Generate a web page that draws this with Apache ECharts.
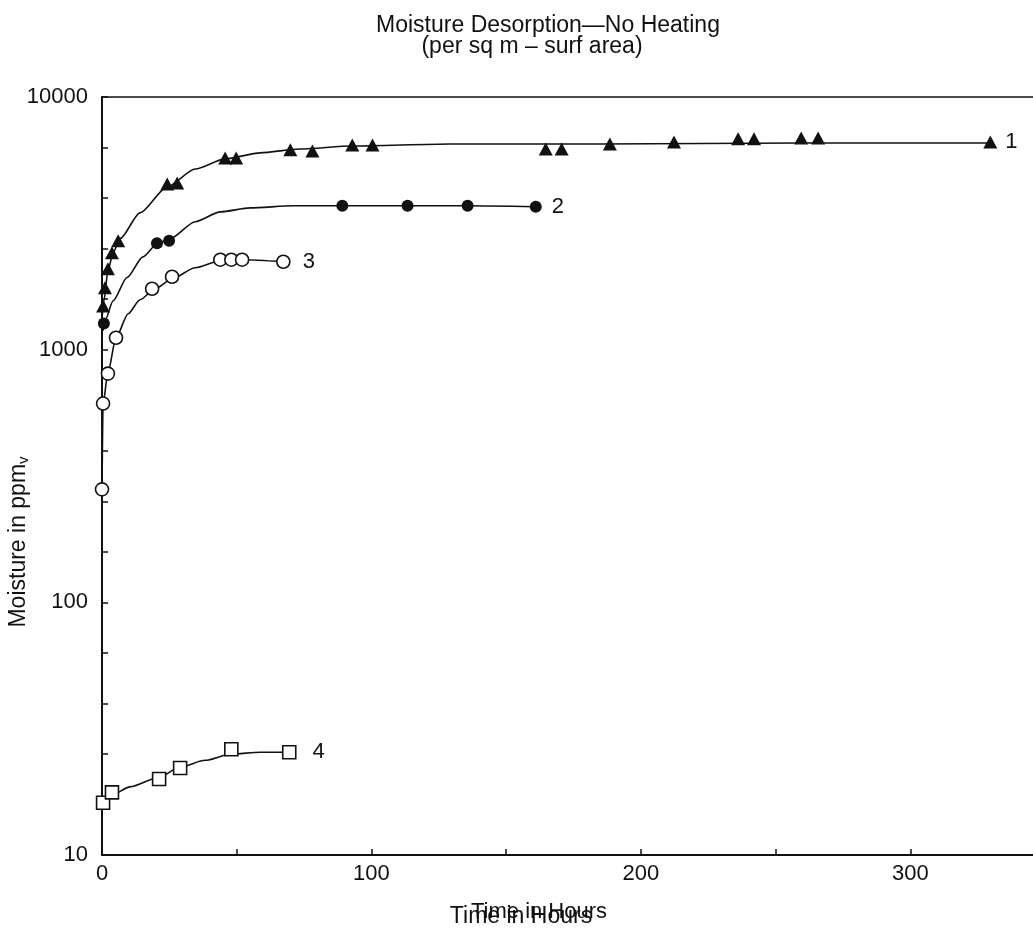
<!DOCTYPE html>
<html>
<head>
<meta charset="utf-8">
<title>Moisture Desorption—No Heating</title>
<script src="https://cdn.jsdelivr.net/npm/echarts@6/dist/echarts.min.js"></script>
<style>
html, body { margin: 0; padding: 0; background: #fff; }
#main { width: 1033px; height: 928px; }
</style>
</head>
<body>
<div id="main"></div>
<script>
// measured points: time in hours, moisture in ppmv
var s1Hours = [0.4, 1.1, 2.2, 3.7, 6, 24.2, 27.9, 45.7, 49.8, 69.9, 78.1, 92.9, 100.4, 164.7, 170.6, 188.5, 212.3, 236.1, 242, 259.5, 265.8, 329.7];
var s1Ppm   = [1490, 1760, 2090, 2420, 2700, 4530, 4570, 5740, 5740, 6180, 6120, 6460, 6460, 6230, 6230, 6520, 6640, 6830, 6830, 6890, 6890, 6640];

var s2Hours = [0.7, 20.4, 24.9, 89.2, 113.4, 135.7, 161];
var s2Ppm   = [1270, 2640, 2700, 3710, 3710, 3710, 3680];

var s3Hours = [0, 0.4, 2.2, 5.2, 18.6, 26, 43.9, 48, 52, 67.3];
var s3Ppm   = [280, 612, 804, 1115, 1742, 1944, 2270, 2270, 2270, 2228];

var s4Hours = [0.4, 3.7, 21.2, 29, 48, 69.5];
var s4Ppm   = [16.1, 17.7, 20.0, 22.1, 26.2, 25.5];

// fitted curves as drawn on the figure
var c1Hours = [0, 0.7, 2.2, 4.1, 6.7, 14.1, 24.2, 34.6, 45.7, 58.7, 73.6, 92.9, 129.4, 185.1, 259.5, 329.7];
var c1Ppm   = [1330, 1560, 2050, 2420, 2750, 3480, 4410, 5190, 5690, 6010, 6230, 6400, 6520, 6520, 6580, 6580];

var c2Hours = [0.4, 1.1, 4.1, 9.3, 15.2, 20.4, 25.3, 34.6, 43.9, 55, 71, 89.2, 113.4, 135.7, 161];
var c2Ppm   = [1190, 1300, 1560, 1930, 2330, 2620, 2750, 3210, 3510, 3640, 3710, 3710, 3710, 3710, 3680];

var c3Hours = [0, 0.4, 2.2, 5.2, 9.7, 14.1, 19.7, 26, 34.6, 43.9, 52.4, 67.3];
var c3Ppm   = [277, 612, 811, 1116, 1388, 1576, 1742, 1908, 2110, 2248, 2269, 2228];

var c4Hours = [0.4, 3.7, 10.4, 21.2, 29, 38.3, 48, 58.7, 69.5];
var c4Ppm   = [15.8, 17.3, 18.6, 20.3, 22.3, 23.7, 25.1, 25.5, 25.5];

var curveNames = ['1', '2', '3', '4'];
var xTicks = [0, 100, 200, 300];

function pairs(xs, ys) {
    return xs.map(function (x, i) { return [x, ys[i]]; });
}

// last point carries the curve number
function marks(xs, ys, tag, gap) {
    var d = pairs(xs, ys);
    var last = d.length - 1;
    d[last] = {
        value: d[last],
        label: { show: true, position: 'right', distance: gap, formatter: tag,
                 color: '#111', fontSize: 22, fontFamily: 'Liberation Sans' }
    };
    return d;
}

var ink = '#111';

function curve(xs, ys) {
    return {
        type: 'line', data: pairs(xs, ys), smooth: 0.25, smoothMonotone: 'x',
        showSymbol: false, silent: true,
        lineStyle: { color: ink, width: 1.6 }, z: 2
    };
}

var myChart = echarts.init(document.getElementById('main'));

var txt = function (s, x, y, size) {
    return { type: 'text', x: x, y: y,
             style: { text: s, font: size + 'px "Liberation Sans"', fill: ink, textAlign: 'center', textVerticalAlign: 'middle' } };
};

var option = {
    backgroundColor: '#fff',
    animation: false,
    textStyle: { fontFamily: 'Liberation Sans', color: ink },
    grid: { left: 102, right: -12, top: 97, bottom: 73, outerBoundsMode: 'none', containLabel: false,
            show: true, borderColor: ink, borderWidth: 1.5 },
    graphic: [
        txt('Moisture Desorption—No Heating', 548, 26, 23),
        txt('(per sq m – surf area)', 532, 47, 23),
        txt('Time in Hours', 539, 912, 22),
        txt('Time in Hours', 521, 917, 23),
        {
            type: 'text', x: 19, y: 542, rotation: Math.PI / 2,
            style: {
                text: 'Moisture in ppm{s|v}', font: '23px "Liberation Sans"', fill: ink,
                textAlign: 'center', textVerticalAlign: 'middle',
                rich: { s: { fontSize: 15, fontFamily: 'Liberation Sans', fill: ink, padding: [9, 0, 0, 0] } }
            }
        }
    ],
    xAxis: {
        type: 'value', min: 0, max: 350, interval: 50,
        axisLine: { lineStyle: { color: ink, width: 2 } },
        axisTick: { inside: true, length: 6, lineStyle: { color: ink, width: 1.5 } },
        axisLabel: {
            color: ink, fontSize: 22, margin: 8,
            formatter: function (v) { return xTicks.indexOf(v) >= 0 ? String(v) : ''; }
        },
        splitLine: { show: false }
    },
    yAxis: [{
        type: 'log', logBase: 10, min: 10, max: 10000,
        axisLine: { lineStyle: { color: ink, width: 2 } },
        axisTick: { inside: true, length: 6, lineStyle: { color: ink, width: 1.5 } },
        axisLabel: { color: ink, fontSize: 22, margin: 14, formatter: function (v) { return String(v); } },
        splitLine: { show: false }
    }, {
        // minor ticks at every fifth of a decade (log10 scale)
        type: 'value', min: 1, max: 4, interval: 0.2, position: 'left',
        axisLine: { show: false },
        axisTick: { inside: true, length: 6, lineStyle: { color: ink, width: 1.5 } },
        axisLabel: { show: false },
        splitLine: { show: false }
    }],
    series: [
        curve(c1Hours, c1Ppm),
        curve(c2Hours, c2Ppm),
        curve(c3Hours, c3Ppm),
        curve(c4Hours, c4Ppm),
        {
            name: curveNames[0], type: 'scatter', data: marks(s1Hours, s1Ppm, curveNames[0], 8),
            symbol: 'triangle', symbolSize: [14, 13], itemStyle: { color: ink, opacity: 1 }, z: 3
        },
        {
            name: curveNames[1], type: 'scatter', data: marks(s2Hours, s2Ppm, curveNames[1], 10),
            symbol: 'circle', symbolSize: 12, itemStyle: { color: ink, opacity: 1 }, z: 3
        },
        {
            name: curveNames[2], type: 'scatter', data: marks(s3Hours, s3Ppm, curveNames[2], 12),
            symbol: 'circle', symbolSize: 13, itemStyle: { color: '#fff', borderColor: ink, borderWidth: 1.6, opacity: 1 }, z: 3
        },
        {
            name: curveNames[3], type: 'scatter', data: marks(s4Hours, s4Ppm, curveNames[3], 16),
            symbol: 'rect', symbolSize: 13, itemStyle: { color: '#fff', borderColor: ink, borderWidth: 1.6, opacity: 1 }, z: 3
        }
    ]
};

myChart.setOption(option);
</script>
</body>
</html>
